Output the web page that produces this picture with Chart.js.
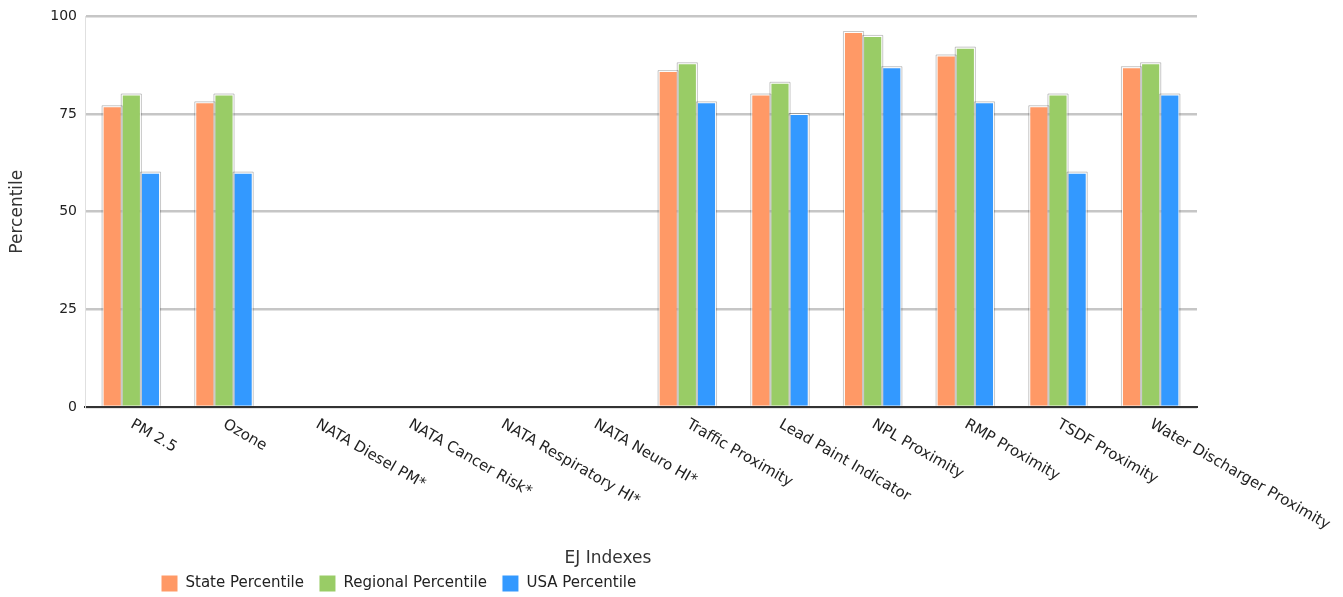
<!DOCTYPE html>
<html>
<head>
<meta charset="utf-8">
<script src="https://cdn.jsdelivr.net/npm/chart.js@4"></script>
<style>
  body { margin: 0; background: #fff; }
  #wrap { width: 1343px; height: 597px; }
</style>
</head>
<body>
<div id="wrap"><canvas id="ejChart"></canvas></div>
<script>
const categories = ["PM 2.5", "Ozone", "NATA Diesel PM*", "NATA Cancer Risk*", "NATA Respiratory HI*",
  "NATA Neuro HI*", "Traffic Proximity", "Lead Paint Indicator", "NPL Proximity", "RMP Proximity",
  "TSDF Proximity", "Water Discharger Proximity"];
const statePct = [77, 78, 0, 0, 0, 0, 86, 80, 96, 90, 77, 87];
const regionalPct = [80, 80, 0, 0, 0, 0, 88, 83, 95, 92, 80, 88];
const usaPct = [60, 60, 0, 0, 0, 0, 78, 75, 87, 78, 60, 80];
const yTicks = [0, 25, 50, 75, 100];

const FONT = "'DejaVu Sans', Verdana, sans-serif";

// draws x labels rotated clockwise, starting at the tick, plus the x title
const slantLabels = {
  id: "slantLabels",
  afterDraw(chart) {
    const ctx = chart.ctx;
    const xs = chart.scales.x;
    ctx.save();
    ctx.font = "15px " + FONT;
    ctx.fillStyle = "#222";
    ctx.textAlign = "left";
    ctx.textBaseline = "top";
    categories.forEach((c, i) => {
      ctx.save();
      ctx.translate(xs.getPixelForTick(i) + 4, xs.top + 10);
      ctx.rotate(Math.PI / 6);
      ctx.fillText(c, 0, 0);
      ctx.restore();
    });
    ctx.font = "17px " + FONT;
    ctx.fillStyle = "#333";
    ctx.textAlign = "center";
    ctx.textBaseline = "middle";
    ctx.fillText("EJ Indexes", (xs.left + xs.right) / 2 - 33, xs.top + 152);
    ctx.restore();
  }
};

// thin grey outline around each bar
const barOutline = {
  id: "barOutline",
  afterDatasetsDraw(chart) {
    const ctx = chart.ctx;
    ctx.save();
    ctx.strokeStyle = "rgba(0,0,0,0.22)";
    ctx.lineWidth = 1;
    chart.data.datasets.forEach((ds, di) => {
      chart.getDatasetMeta(di).data.forEach((bar, i) => {
        if (!ds.data[i]) return;
        const l = bar.x - bar.width / 2;
        ctx.beginPath();
        ctx.moveTo(l - 0.5, bar.base);
        ctx.lineTo(l - 0.5, bar.y - 0.5);
        ctx.lineTo(l + bar.width + 0.5, bar.y - 0.5);
        ctx.lineTo(l + bar.width + 0.5, bar.base);
        ctx.stroke();
      });
    });
    ctx.restore();
  }
};

const moveLegend = {
  id: "moveLegend",
  afterLayout(chart) {
    const lg = chart.legend;
    const dx = 146 - lg.left;
    const dy = 7;
    lg.left += dx;
    lg.right += dx;
    lg.top += dy;
    lg.bottom += dy;
    lg.legendHitBoxes.forEach(h => { h.left += dx; h.top += dy; });
  }
};

function ds(label, data, color) {
  return {
    label: label,
    data: data,
    backgroundColor: color,
    borderColor: "#ffffff",
    borderWidth: 1,
    categoryPercentage: 0.62,
    barPercentage: 1.0
  };
}

new Chart(document.getElementById("ejChart"), {
  type: "bar",
  data: {
    labels: categories,
    datasets: [
      ds("State Percentile", statePct, "#ff9966"),
      ds("Regional Percentile", regionalPct, "#99cc66"),
      ds("USA Percentile", usaPct, "#3399ff")
    ]
  },
  plugins: [slantLabels, barOutline, moveLegend],
  options: {
    responsive: true,
    maintainAspectRatio: false,
    animation: false,
    layout: { padding: { top: 6, right: 146, left: 0, bottom: 2 } },
    plugins: {
      legend: {
        position: "bottom",
        align: "start",
        labels: {
          boxWidth: 17,
          boxHeight: 17,
          padding: 15,
          color: "#222",
          font: { family: FONT, size: 15 }
        }
      },
      tooltip: { enabled: false }
    },
    scales: {
      x: {
        grid: { display: false },
        border: { display: true, color: "#333", width: 2 },
        ticks: { display: false },
        afterFit(scale) { scale.height = 146; }
      },
      y: {
        min: 0,
        max: 100,
        afterBuildTicks(scale) { scale.ticks = yTicks.map(v => ({ value: v })); },
        grid: { color: "#c6c6c6", lineWidth: 2.5, drawTicks: false },
        border: { display: true, color: "#e0e0e0", width: 1 },
        ticks: {
          padding: 8,
          color: "#222",
          font: { family: FONT, size: 14 }
        },
        title: {
          display: true,
          text: "Percentile",
          color: "#333",
          font: { family: FONT, size: 17 },
          padding: { top: 7, bottom: 10 }
        },
        afterFit(scale) { scale.width = 85; }
      }
    }
  }
});
</script>
</body>
</html>
